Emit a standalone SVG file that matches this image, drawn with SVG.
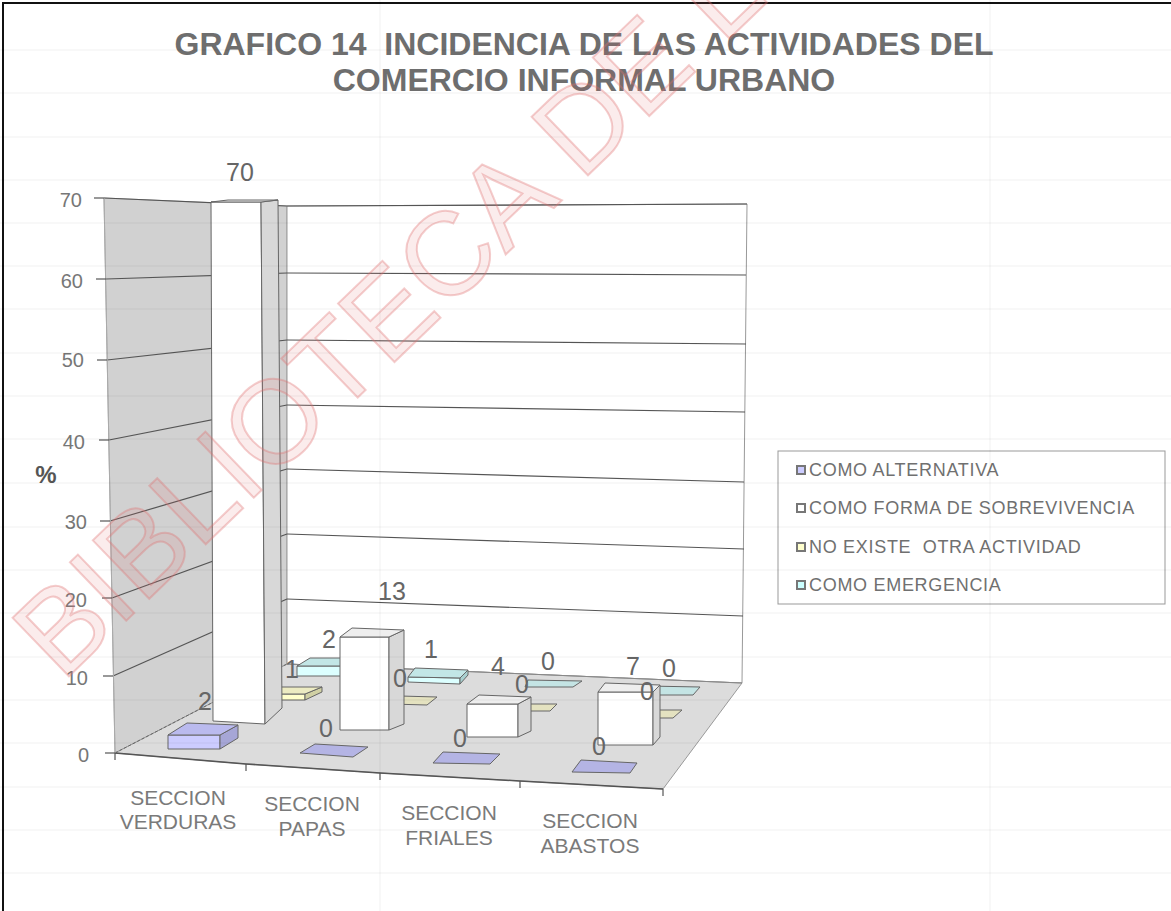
<svg xmlns="http://www.w3.org/2000/svg" width="1171" height="911" viewBox="0 0 1171 911">
<style>
text{font-family:'Liberation Sans',Arial,sans-serif}
.title{font-size:32px;font-weight:bold;fill:#6e6e6e}
.ax{font-size:20px;fill:#777}
.cat{font-size:21px;fill:#7a7a7a}
.lbl{font-size:25px;fill:#666;text-anchor:middle}
.leg{font-size:18px;fill:#707070;letter-spacing:0.7px}
.grid{stroke:#555;stroke-width:1.2;fill:none}
.bo{stroke:#666;stroke-width:1;stroke-linejoin:round}
.wf{fill:#ffffff}.ws{fill:#d8d8d8}.wt{fill:#eeeeee}
.bf{fill:#ccccff}.bs{fill:#a6a6d6}.bt{fill:#babaee}.bz{fill:#b4b4e4}
.yf{fill:#ffffcc}.ys{fill:#d0d0a4}.yt{fill:#ecebc2}.yz{fill:#e4e2c0}
.cf{fill:#dcffff}.cs{fill:#a8d0d0}.ct{fill:#c2e6e6}.cz{fill:#c4e4e4}
.sheet{stroke:#000;stroke-opacity:0.06;stroke-width:1}
</style>
<rect x="0" y="0" width="1171" height="911" fill="#fff"/>
<rect x="3" y="3" width="1175" height="915" fill="none" stroke="#111" stroke-width="2"/>

<g id="title">
<text class="title" x="584" y="55" text-anchor="middle" xml:space="preserve">GRAFICO 14  INCIDENCIA DE LAS ACTIVIDADES DEL</text>
<text class="title" x="584" y="91" text-anchor="middle">COMERCIO INFORMAL URBANO</text>
</g>

<g id="walls">
<polygon points="104,198 287,206 287,664 115,753" fill="#d1d1d1" stroke="#aaa" stroke-width="1"/>
<polygon points="287,206 747,204 742,683 287,664" fill="#fff" stroke="#999" stroke-width="1"/>
<polygon points="115,753 287,664 742,683 663,789 520,781 380,773 246,764" fill="#dcdcdc" stroke="#999" stroke-width="1"/>
</g>

<g id="gridlines">
<line class="grid" x1="104" y1="198" x2="287" y2="206" stroke="#888"/>
<line class="grid" x1="106" y1="279" x2="287" y2="273"/>
<line class="grid" x1="107" y1="360" x2="287" y2="340"/>
<line class="grid" x1="109" y1="440" x2="287" y2="405"/>
<line class="grid" x1="110" y1="521" x2="287" y2="469"/>
<line class="grid" x1="112" y1="598" x2="287" y2="534"/>
<line class="grid" x1="113" y1="676" x2="287" y2="599"/>
<line x1="115" y1="753" x2="287" y2="664" stroke="#666" stroke-width="1" stroke-dasharray="3,2"/>
<line class="grid" x1="287" y1="206" x2="747" y2="204" stroke="#888"/>
<line class="grid" x1="287" y1="273" x2="746" y2="275"/>
<line class="grid" x1="287" y1="340" x2="746" y2="344"/>
<line class="grid" x1="287" y1="405" x2="745" y2="412"/>
<line class="grid" x1="287" y1="469" x2="744" y2="482"/>
<line class="grid" x1="287" y1="534" x2="744" y2="549"/>
<line class="grid" x1="287" y1="599" x2="743" y2="616"/>
<line x1="287" y1="664" x2="742" y2="683" stroke="#888" stroke-width="1"/>
</g>

<g id="axes">
<polyline points="115,753 246,764 380,773 520,781 663,789" fill="none" stroke="#555" stroke-width="1.6"/>
<line x1="104" y1="198" x2="115" y2="753" stroke="#aaa" stroke-width="1"/>
<g stroke="#555" stroke-width="1.2">
<line x1="94" y1="198" x2="104" y2="198"/>
<line x1="96" y1="279" x2="106" y2="279"/>
<line x1="97" y1="360" x2="107" y2="360"/>
<line x1="99" y1="440" x2="109" y2="440"/>
<line x1="100" y1="521" x2="110" y2="521"/>
<line x1="102" y1="598" x2="112" y2="598"/>
<line x1="103" y1="676" x2="113" y2="676"/>
<line x1="105" y1="753" x2="115" y2="753"/>
<line x1="115" y1="753" x2="115" y2="760"/>
<line x1="246" y1="764" x2="246" y2="771"/>
<line x1="380" y1="773" x2="380" y2="780"/>
<line x1="520" y1="781" x2="520" y2="788"/>
<line x1="663" y1="789" x2="663" y2="796"/>
</g>
<text class="ax" x="82" y="207" text-anchor="end">70</text>
<text class="ax" x="83" y="288" text-anchor="end">60</text>
<text class="ax" x="84" y="367" text-anchor="end">50</text>
<text class="ax" x="85" y="449" text-anchor="end">40</text>
<text class="ax" x="87" y="529" text-anchor="end">30</text>
<text class="ax" x="87" y="607" text-anchor="end">20</text>
<text class="ax" x="88" y="685" text-anchor="end">10</text>
<text class="ax" x="89" y="762" text-anchor="end">0</text>
<text x="46" y="483" text-anchor="middle" style="font-size:24px;font-weight:bold;fill:#555">%</text>
<text class="cat" x="178" y="805" text-anchor="middle">SECCION</text>
<text class="cat" x="178" y="829" text-anchor="middle">VERDURAS</text>
<text class="cat" x="312" y="811" text-anchor="middle">SECCION</text>
<text class="cat" x="312" y="836" text-anchor="middle">PAPAS</text>
<text class="cat" x="449" y="820" text-anchor="middle">SECCION</text>
<text class="cat" x="449" y="845" text-anchor="middle">FRIALES</text>
<text class="cat" x="590" y="828" text-anchor="middle">SECCION</text>
<text class="cat" x="590" y="853" text-anchor="middle">ABASTOS</text>
</g>

<g id="bars">
<g id="verduras-emergencia">
<polygon class="bo cf" points="297,666 352,666 352,676 297,676"/>
<polygon class="bo cs" points="352,666 362,658 362,668 352,676"/>
<polygon class="bo ct" points="297,666 352,666 362,658 310,658"/>
</g>
<g id="papas-emergencia">
<polygon class="bo cf" points="408,677 460,678 460,684 408,682"/>
<polygon class="bo cs" points="460,678 468,670 468,675 460,684"/>
<polygon class="bo ct" points="408,677 460,678 468,670 415,668"/>
</g>
<polygon id="friales-emergencia" class="bo cz" points="525,687 573,687 582,681 528,680"/>
<polygon id="abastos-emergencia" class="bo cz" points="640,695 693,695 700,687 647,686"/>

<g id="verduras-noexiste">
<polygon class="bo yf" points="255,694 305,694 305,700 255,700"/>
<polygon class="bo ys" points="305,694 322,687 322,692 305,700"/>
<polygon class="bo yt" points="255,694 305,694 322,687 272,687"/>
</g>
<polygon id="papas-noexiste" class="bo yz" points="390,704 427,705 437,697 400,696"/>
<polygon id="friales-noexiste" class="bo yz" points="510,711 550,711 557,704 517,704"/>
<polygon id="abastos-noexiste" class="bo yz" points="640,718 673,718 682,710 648,710"/>

<g id="verduras-sobrevivencia">
<polygon class="bo wf" points="211,202 261,202 265,724 213,721"/>
<polygon class="bo ws" points="261,202 278,200 282,708 265,724"/>
<polygon class="bo wt" points="211,202 261,202 278,200 228,200"/>
</g>
<g id="papas-sobrevivencia">
<polygon class="bo wf" points="340,637 389,637 389,730 340,730"/>
<polygon class="bo ws" points="389,637 404,630 404,724 389,730"/>
<polygon class="bo wt" points="340,637 389,637 404,630 352,628"/>
</g>
<g id="friales-sobrevivencia">
<polygon class="bo wf" points="467,704 518,704 518,737 467,737"/>
<polygon class="bo ws" points="518,704 531,697 531,731 518,737"/>
<polygon class="bo wt" points="467,704 518,704 531,697 479,695"/>
</g>
<g id="abastos-sobrevivencia">
<polygon class="bo wf" points="598,692 653,692 653,745 598,745"/>
<polygon class="bo ws" points="653,692 660,685 660,737 653,745"/>
<polygon class="bo wt" points="598,692 653,692 660,685 605,683"/>
</g>

<g id="verduras-alternativa">
<polygon class="bo bf" points="168,735 220,735 220,749 168,749"/>
<polygon class="bo bs" points="220,735 238,725 238,738 220,749"/>
<polygon class="bo bt" points="168,735 220,735 238,725 187,723"/>
</g>
<polygon id="papas-alternativa" class="bo bz" points="300,753 353,757 368,747 315,744"/>
<polygon id="friales-alternativa" class="bo bz" points="433,763 490,764 500,754 443,752"/>
<polygon id="abastos-alternativa" class="bo bz" points="572,772 630,773 637,763 581,760"/>
</g>

<g id="labels">
<text class="lbl" x="240" y="181">70</text>
<text class="lbl" x="205" y="710">2</text>
<text class="lbl" x="292" y="678">1</text>
<text class="lbl" x="329" y="648">2</text>
<text class="lbl" x="326" y="737">0</text>
<text class="lbl" x="392" y="600">13</text>
<text class="lbl" x="400" y="687">0</text>
<text class="lbl" x="431" y="658">1</text>
<text class="lbl" x="460" y="747">0</text>
<text class="lbl" x="498" y="675">4</text>
<text class="lbl" x="522" y="693">0</text>
<text class="lbl" x="548" y="670">0</text>
<text class="lbl" x="599" y="755">0</text>
<text class="lbl" x="633" y="675">7</text>
<text class="lbl" x="647" y="700">0</text>
<text class="lbl" x="669" y="677">0</text>
</g>

<g id="legend">
<rect x="778" y="451" width="387" height="153" fill="#fff" stroke="#999" stroke-width="1"/>
<rect x="797" y="466" width="8" height="8" fill="#ccccff" stroke="#777" stroke-width="2"/>
<rect x="797" y="504" width="8" height="8" fill="#ffffff" stroke="#777" stroke-width="2"/>
<rect x="797" y="543" width="8" height="8" fill="#ffffcc" stroke="#777" stroke-width="2"/>
<rect x="797" y="581" width="8" height="8" fill="#ccffff" stroke="#777" stroke-width="2"/>
<text class="leg" x="809" y="476">COMO ALTERNATIVA</text>
<text class="leg" x="809" y="514">COMO FORMA DE SOBREVIVENCIA</text>
<text class="leg" x="809" y="553" xml:space="preserve">NO EXISTE  OTRA ACTIVIDAD</text>
<text class="leg" x="809" y="591">COMO EMERGENCIA</text>
</g>

<g id="sheet-grid">
<line class="sheet" x1="0" y1="50" x2="1171" y2="50"/>
<line class="sheet" x1="0" y1="93" x2="1171" y2="93"/>
<line class="sheet" x1="0" y1="137" x2="1171" y2="137"/>
<line class="sheet" x1="0" y1="180" x2="1171" y2="180"/>
<line class="sheet" x1="0" y1="223" x2="1171" y2="223"/>
<line class="sheet" x1="0" y1="266" x2="1171" y2="266"/>
<line class="sheet" x1="0" y1="309" x2="1171" y2="309"/>
<line class="sheet" x1="0" y1="353" x2="1171" y2="353"/>
<line class="sheet" x1="0" y1="396" x2="1171" y2="396"/>
<line class="sheet" x1="0" y1="439" x2="1171" y2="439"/>
<line class="sheet" x1="0" y1="483" x2="1171" y2="483"/>
<line class="sheet" x1="0" y1="527" x2="1171" y2="527"/>
<line class="sheet" x1="0" y1="570" x2="1171" y2="570"/>
<line class="sheet" x1="0" y1="613" x2="1171" y2="613"/>
<line class="sheet" x1="0" y1="657" x2="1171" y2="657"/>
<line class="sheet" x1="0" y1="700" x2="1171" y2="700"/>
<line class="sheet" x1="0" y1="743" x2="1171" y2="743"/>
<line class="sheet" x1="0" y1="787" x2="1171" y2="787"/>
<line class="sheet" x1="0" y1="830" x2="1171" y2="830"/>
<line class="sheet" x1="0" y1="873" x2="1171" y2="873"/>
<line class="sheet" x1="380" y1="0" x2="380" y2="911"/>
<line class="sheet" x1="990" y1="0" x2="990" y2="911"/>
</g>

<g id="watermark">
<text transform="translate(62,683) rotate(-44)" style="font-size:118px;fill:#e06060;fill-opacity:0.12;stroke:#e07070;stroke-opacity:0.35;stroke-width:2">BIBLIOTECA DE L</text>
</g>
</svg>
